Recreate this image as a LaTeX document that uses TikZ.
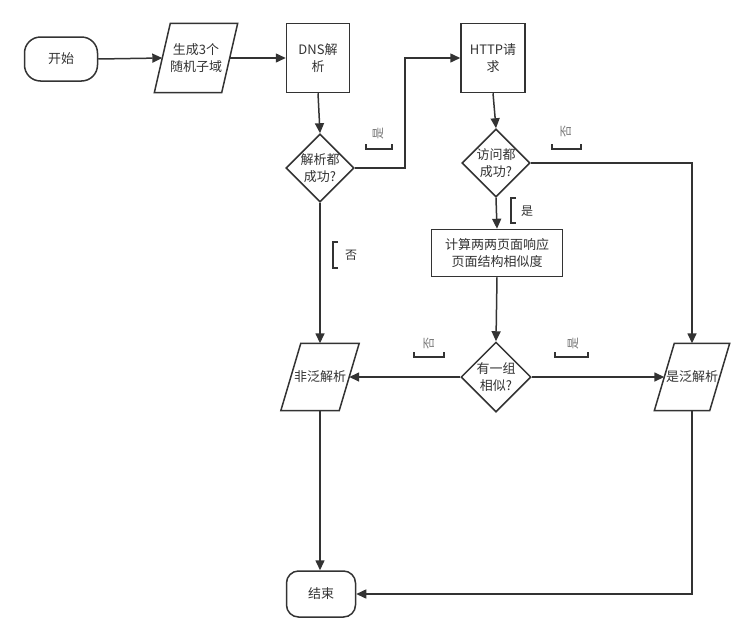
\documentclass[tikz,border=0pt]{standalone}
\usepackage{fontspec}
\setmainfont{Noto Sans CJK SC}
\usetikzlibrary{shapes.geometric,arrows.meta}
\definecolor{ln}{HTML}{333333}
\definecolor{tx}{HTML}{333333}
\definecolor{lb}{HTML}{777777}
\newcommand{\paraframe}[2]{\draw[line] ([xshift=#2]#1.north west) -- ([xshift=#2]#1.north east) -- ([xshift=-#2]#1.south east) -- ([xshift=-#2]#1.south west) -- cycle;}
\begin{document}
\begin{tikzpicture}[x=1pt,y=-1pt,
  every node/.style={text=tx, font=\fontsize{13}{17}\selectfont, align=center, inner sep=0pt},
  line/.style={draw=ln, line width=1.5pt, line join=miter},
  arr/.style={line, -{Triangle[length=10pt,width=9pt]}},
  term/.style={draw=ln, line width=1.5pt, rounded corners=16pt},
  proc/.style={draw=ln, line width=1.5pt},
  dec/.style={draw=ln, line width=1.5pt, diamond, aspect=1},
  io/.style={draw=none},
  lbl/.style={text=lb, font=\fontsize{12}{14}\selectfont, rotate=90},
  ulbl/.style={text=tx, font=\fontsize{12}{14}\selectfont},
  brk/.style={draw=ln, line width=1.5pt}]
\useasboundingbox (0,0) rectangle (755,643);
% nodes
\node[term, minimum width=73pt, minimum height=44pt] (start) at (61,59) {开始};
\node[io, minimum width=67pt, minimum height=69pt] (gen) at (196,58) {生成3个\\随机子域};
\paraframe{gen}{8pt}
\node[proc, minimum width=63pt, minimum height=69pt] (dns) at (318,58) {DNS解\\析};
\node[dec, minimum width=65pt, minimum height=65pt] (d1) at (320,168) {解析都\\成功?};
\node[proc, minimum width=64pt, minimum height=69pt] (http) at (493,58) {HTTP请\\求};
\node[dec, minimum width=65pt, minimum height=65pt] (d2) at (496,163) {访问都\\成功?};
\node[proc, minimum width=131pt, minimum height=47pt] (calc) at (497,253) {计算两两页面响应\\页面结构相似度};
\node[dec, minimum width=70pt, minimum height=70pt] (d3) at (496,377) {有一组\\相似?};
\node[io, minimum width=58pt, minimum height=67pt] (non) at (320,377) {非泛解析};
\paraframe{non}{10pt}
\node[io, minimum width=55pt, minimum height=67pt] (yes) at (692,377) {是泛解析};
\paraframe{yes}{10pt}
\node[term, minimum width=69pt, minimum height=46pt, rounded corners=12pt] (end) at (321,594) {结束};
% connectors
\coordinate (k1) at (405,58);
\draw[arr] (start.east) -- (gen.west);
\draw[arr] (gen.east) -- (dns.west);
\draw[arr] (dns.south) -- (d1.north);
\draw[arr] (d1.east) -| (k1) -- (http.west);
\draw[arr] (http.south) -- (d2.north);
\draw[arr] (d2.east) -| (yes.north);
\draw[arr] (d2.south) -- (calc.north);
\draw[arr] (calc.south) -- (d3.north);
\draw[arr] (d3.west) -- (non.east);
\draw[arr] (d3.east) -- (yes.west);
\draw[arr] (d1.south) -- (non.north);
\draw[arr] (non.south) -- (end.north -| non.south);
\draw[arr] (yes.south) |- (end.east);
% labels
\node[lbl] (l1) at (378,133) {是};
\draw[brk] (366,144) -- (366,149) -- (392,149) -- (392,144);
\node[lbl] (l2) at (566,131) {否};
\draw[brk] (552,144) -- (552,149) -- (581,149) -- (581,144);
\node[ulbl] (l3) at (351,255) {否};
\draw[brk] (338,242) -- (333,242) -- (333,268) -- (338,268);
\node[ulbl] (l4) at (527,211) {是};
\draw[brk] (516,198) -- (511,198) -- (511,223) -- (516,223);
\node[lbl] (l5) at (429,343) {否};
\draw[brk] (414,352) -- (414,357) -- (444,357) -- (444,352);
\node[lbl] (l6) at (573,343) {是};
\draw[brk] (555,352) -- (555,357) -- (588,357) -- (588,352);
\end{tikzpicture}
\end{document}
